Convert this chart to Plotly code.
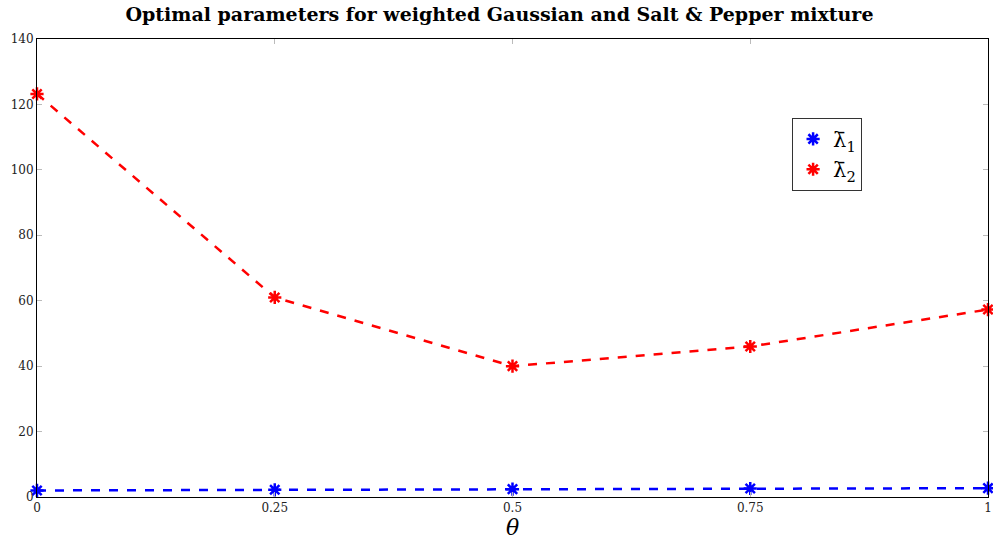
import plotly.graph_objects as go

theta = [0, 0.25, 0.5, 0.75, 1]
lambda1 = [2.0, 2.2, 2.4, 2.6, 2.7]
lambda2 = [123.2, 61.0, 40.0, 46.0, 57.3]
x_ticks = [0, 0.25, 0.5, 0.75, 1]
x_ticklabels = ["0", "0.25", "0.5", "0.75", "1"]
y_ticks = [0, 20, 40, 60, 80, 100, 120, 140]
names = ["λ̄<sub>1</sub>", "λ̄<sub>2</sub>"]
colors = ["#0000ff", "#ff0000"]

fig = go.Figure()
for vals, name, col in zip([lambda1, lambda2], names, colors):
    fig.add_trace(go.Scatter(x=theta, y=vals, mode="lines+markers", name=name, showlegend=False,
                             cliponaxis=False,
                             line=dict(color=col, width=2.5, dash="dash"),
                             marker=dict(symbol="asterisk-open", size=11, color=col,
                                         line=dict(color=col, width=2.5))))
for name, col in zip(names, colors):
    fig.add_trace(go.Scatter(x=[None], y=[None], mode="markers", name=name, showlegend=True,
                             marker=dict(symbol="asterisk-open", size=11, color=col,
                                         line=dict(color=col, width=2.5))))

font_family = "DejaVu Serif, Liberation Serif, serif"
fig.update_layout(
    width=993, height=542,
    paper_bgcolor="white", plot_bgcolor="white",
    margin=dict(l=37, r=5, t=39, b=45, autoexpand=False),
    title=dict(text="<b>Optimal parameters for weighted Gaussian and Salt &amp; Pepper mixture</b>",
               x=0.503, xanchor="center", y=0.985, yanchor="top",
               font=dict(family=font_family, size=19, color="black")),
    font=dict(family=font_family, size=12, color="#222"),
    showlegend=True,
    legend=dict(x=0.794, y=0.828, xanchor="left", yanchor="top",
                bordercolor="#333", borderwidth=1, bgcolor="white",
                font=dict(family=font_family, size=21, color="black"),
                itemwidth=30, tracegroupgap=2),
    xaxis=dict(range=[0, 1], tickvals=x_ticks, ticktext=x_ticklabels, automargin=False,
               showgrid=False, zeroline=False, showline=True, linecolor="black", linewidth=1,
               mirror="ticks", ticks="inside", ticklen=5, tickcolor="#bbb",
               title=dict(text="<i>θ</i>", font=dict(family=font_family, size=22, color="black"), standoff=4),
               tickfont=dict(family=font_family, size=12, color="#222")),
    yaxis=dict(range=[0, 140], tickvals=y_ticks, automargin=False,
               showgrid=False, zeroline=False, showline=True, linecolor="black", linewidth=1,
               mirror="ticks", ticks="inside", ticklen=5, tickcolor="#bbb",
               tickfont=dict(family=font_family, size=12, color="#222")),
)
fig.write_html("out.html", config={"displayModeBar": False})
with open("out.html", encoding="utf-8") as f:
    html = f.read()
html = html.replace("<body>", '<body style="margin:0;padding:0;overflow:hidden">', 1)
with open("out.html", "w", encoding="utf-8") as f:
    f.write(html)
